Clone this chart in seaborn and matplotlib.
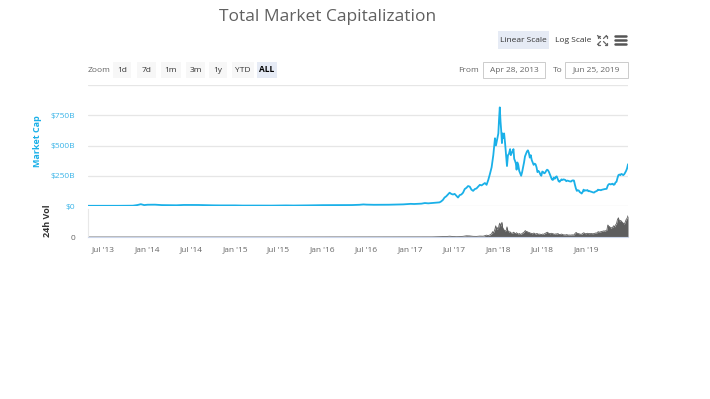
import pandas as pd
import seaborn as sns
import matplotlib.pyplot as plt
import matplotlib.dates as mdates
from matplotlib.patches import FancyBboxPatch
from matplotlib.lines import Line2D

# market cap, billions USD (sparse before the 2017 run, denser after)
cap_dates_early = [
    "2013-04-28", "2013-06-01", "2013-07-01", "2013-08-01", "2013-09-01", "2013-10-01",
    "2013-11-01", "2013-11-20", "2013-12-04", "2013-12-18", "2014-01-01", "2014-02-01",
    "2014-03-01", "2014-04-01", "2014-05-01", "2014-06-01", "2014-07-01", "2014-08-01",
    "2014-09-01", "2014-10-01", "2014-11-01", "2014-12-01", "2015-01-01", "2015-02-01",
    "2015-03-01", "2015-04-01", "2015-05-01", "2015-06-01", "2015-07-01", "2015-08-01",
    "2015-09-01", "2015-10-01", "2015-11-01", "2015-12-01", "2016-01-01", "2016-02-01",
    "2016-03-01", "2016-04-01", "2016-05-01", "2016-06-01", "2016-06-18", "2016-07-01",
    "2016-08-01", "2016-09-01", "2016-10-01", "2016-11-01", "2016-12-01", "2017-01-01",
    "2017-01-15", "2017-02-01", "2017-02-15", "2017-03-01", "2017-03-15", "2017-04-01",
    "2017-04-15",
]
cap_values_early = [
    1.6, 1.4, 1.1, 1.3, 1.7, 1.8,
    2.6, 8.0, 15.0, 7.5, 10.5, 11.0,
    7.5, 6.3, 6.0, 8.6, 8.6, 8.3,
    6.5, 5.5, 4.8, 5.3, 4.9, 3.5,
    3.8, 3.6, 3.4, 3.3, 4.3, 4.7,
    3.9, 4.1, 5.2, 6.1, 7.0, 7.0,
    7.9, 7.4, 7.8, 10.0, 13.0, 11.4,
    10.0, 10.4, 10.6, 12.2, 13.5, 17.7,
    16.5, 18.5, 19.5, 24.5, 22.0, 25.0,
    28.0,
]
cap_dates_2017 = [
    "2017-05-01", "2017-05-08", "2017-05-15", "2017-05-22", "2017-05-29", "2017-06-05",
    "2017-06-12", "2017-06-19", "2017-06-26", "2017-07-03", "2017-07-10", "2017-07-17",
    "2017-07-24", "2017-07-31", "2017-08-07", "2017-08-14", "2017-08-21", "2017-08-28",
    "2017-09-04", "2017-09-11", "2017-09-18", "2017-09-25", "2017-10-02", "2017-10-09",
    "2017-10-16", "2017-10-23", "2017-10-30", "2017-11-06", "2017-11-13", "2017-11-20",
    "2017-11-27", "2017-12-04", "2017-12-11", "2017-12-18", "2017-12-22", "2017-12-25",
]
cap_values_2017 = [
    30, 38, 50, 70, 80, 95,
    110, 100, 95, 100, 85, 70,
    90, 95, 110, 140, 150, 165,
    160, 135, 125, 140, 145, 160,
    175, 170, 180, 190, 175, 215,
    265, 320, 420, 560, 500, 530,
]
cap_dates_2018 = [
    "2018-01-01", "2018-01-04", "2018-01-07", "2018-01-10", "2018-01-13", "2018-01-16",
    "2018-01-18", "2018-01-21", "2018-01-25", "2018-01-29", "2018-02-02", "2018-02-06",
    "2018-02-10", "2018-02-14", "2018-02-19", "2018-02-22", "2018-02-26", "2018-03-01",
    "2018-03-05", "2018-03-08", "2018-03-12", "2018-03-15", "2018-03-18", "2018-03-21",
    "2018-03-25", "2018-03-29", "2018-04-02", "2018-04-06", "2018-04-10", "2018-04-14",
    "2018-04-18", "2018-04-22", "2018-04-26", "2018-04-30", "2018-05-04", "2018-05-08",
    "2018-05-12", "2018-05-16", "2018-05-20", "2018-05-24", "2018-05-28", "2018-06-01",
    "2018-06-05", "2018-06-09", "2018-06-13", "2018-06-17", "2018-06-21", "2018-06-25",
    "2018-06-29", "2018-07-03", "2018-07-07", "2018-07-11", "2018-07-15", "2018-07-19",
    "2018-07-23", "2018-07-27", "2018-07-31", "2018-08-04", "2018-08-08", "2018-08-12",
    "2018-08-16", "2018-08-20", "2018-08-24", "2018-08-28", "2018-09-01", "2018-09-05",
    "2018-09-09", "2018-09-13", "2018-09-17", "2018-09-21", "2018-09-25", "2018-09-29",
    "2018-10-03", "2018-10-07", "2018-10-11", "2018-10-15", "2018-10-19", "2018-10-23",
    "2018-10-27", "2018-10-31", "2018-11-04", "2018-11-08", "2018-11-12", "2018-11-16",
    "2018-11-20", "2018-11-24", "2018-11-28", "2018-12-02", "2018-12-06", "2018-12-10",
    "2018-12-14", "2018-12-18", "2018-12-22", "2018-12-26", "2018-12-30",
]
cap_values_2018 = [
    600, 720, 815, 700, 620, 520,
    600, 560, 600, 520, 420, 330,
    420, 430, 470, 420, 440, 450,
    470, 390, 370, 350, 300, 360,
    340, 290, 270, 250, 280, 320,
    360, 410, 430, 450, 460, 440,
    400, 420, 380, 360, 340, 350,
    345, 320, 280, 290, 280, 260,
    250, 285, 280, 270, 275, 290,
    300, 295, 280, 260, 240, 220,
    215, 235, 225, 240, 245, 225,
    205, 200, 210, 220, 215, 220,
    218, 215, 205, 210, 208, 205,
    203, 202, 210, 212, 210, 175,
    145, 125, 130, 128, 115, 110,
    103, 115, 135, 125, 130,
]
cap_dates_2019 = [
    "2019-01-03", "2019-01-07", "2019-01-11", "2019-01-15", "2019-01-19", "2019-01-23",
    "2019-01-27", "2019-01-31", "2019-02-04", "2019-02-08", "2019-02-12", "2019-02-16",
    "2019-02-20", "2019-02-24", "2019-02-28", "2019-03-04", "2019-03-08", "2019-03-12",
    "2019-03-16", "2019-03-20", "2019-03-24", "2019-03-28", "2019-04-02", "2019-04-06",
    "2019-04-10", "2019-04-14", "2019-04-18", "2019-04-22", "2019-04-26", "2019-04-30",
    "2019-05-04", "2019-05-08", "2019-05-12", "2019-05-16", "2019-05-20", "2019-05-24",
    "2019-05-28", "2019-06-01", "2019-06-05", "2019-06-09", "2019-06-13", "2019-06-17",
    "2019-06-21", "2019-06-25",
]
cap_values_2019 = [
    128, 132, 122, 124, 120, 118,
    115, 112, 111, 118, 122, 125,
    135, 132, 133, 130, 134, 136,
    138, 140, 141, 142, 170, 180,
    182, 178, 182, 184, 175, 178,
    195, 200, 230, 255, 260, 255,
    265, 262, 255, 262, 275, 290,
    310, 345,
]

# 24h volume, billions USD
vol_dates_early = [
    "2013-04-28", "2013-11-15", "2013-12-05", "2014-06-01", "2015-06-01", "2016-06-01",
    "2016-12-01", "2017-01-01", "2017-04-01", "2017-05-15", "2017-06-01", "2017-06-12",
    "2017-06-26", "2017-07-10", "2017-07-24", "2017-08-07", "2017-08-21", "2017-09-04",
    "2017-09-18", "2017-10-02", "2017-10-16", "2017-10-30", "2017-11-13", "2017-11-20",
    "2017-11-27", "2017-12-04", "2017-12-08", "2017-12-11", "2017-12-15", "2017-12-18",
    "2017-12-21", "2017-12-25", "2017-12-28",
]
vol_values_early = [
    0.0, 0.1, 0.2, 0.03, 0.02, 0.1,
    0.1, 0.2, 0.5, 1.5, 2.0, 3.0,
    1.8, 1.2, 1.5, 2.5, 4.5, 4.0,
    2.5, 2.2, 3.5, 3.0, 7.0, 5.0,
    8.0, 12.0, 20.0, 15.0, 22.0, 30.0,
    42.0, 28.0, 35.0,
]
vol_dates_late = [
    "2018-01-01", "2018-01-04", "2018-01-07", "2018-01-10", "2018-01-13", "2018-01-16",
    "2018-01-19", "2018-01-22", "2018-01-26", "2018-01-30", "2018-02-03", "2018-02-06",
    "2018-02-10", "2018-02-14", "2018-02-18", "2018-02-22", "2018-02-26", "2018-03-02",
    "2018-03-06", "2018-03-10", "2018-03-14", "2018-03-18", "2018-03-22", "2018-03-26",
    "2018-03-30", "2018-04-03", "2018-04-07", "2018-04-11", "2018-04-15", "2018-04-19",
    "2018-04-23", "2018-04-27", "2018-05-01", "2018-05-05", "2018-05-09", "2018-05-13",
    "2018-05-17", "2018-05-21", "2018-05-25", "2018-05-29", "2018-06-02", "2018-06-06",
    "2018-06-10", "2018-06-14", "2018-06-18", "2018-06-22", "2018-06-26", "2018-06-30",
    "2018-07-04", "2018-07-08", "2018-07-12", "2018-07-16", "2018-07-20", "2018-07-24",
    "2018-07-28", "2018-08-01", "2018-08-05", "2018-08-09", "2018-08-13", "2018-08-17",
    "2018-08-21", "2018-08-25", "2018-08-29", "2018-09-02", "2018-09-06", "2018-09-10",
    "2018-09-14", "2018-09-18", "2018-09-22", "2018-09-26", "2018-09-30", "2018-10-04",
    "2018-10-08", "2018-10-12", "2018-10-16", "2018-10-20", "2018-10-24", "2018-10-28",
    "2018-11-01", "2018-11-05", "2018-11-09", "2018-11-13", "2018-11-17", "2018-11-21",
    "2018-11-25", "2018-11-29", "2018-12-03", "2018-12-07", "2018-12-11", "2018-12-15",
    "2018-12-19", "2018-12-23", "2018-12-27", "2018-12-31", "2019-01-04", "2019-01-08",
    "2019-01-12", "2019-01-16", "2019-01-20", "2019-01-24", "2019-01-28", "2019-02-01",
    "2019-02-05", "2019-02-09", "2019-02-13", "2019-02-17", "2019-02-21", "2019-02-25",
    "2019-03-01", "2019-03-05", "2019-03-09", "2019-03-13", "2019-03-17", "2019-03-21",
    "2019-03-25", "2019-03-29", "2019-04-02", "2019-04-06", "2019-04-10", "2019-04-14",
    "2019-04-18", "2019-04-22", "2019-04-26", "2019-04-30", "2019-05-04", "2019-05-08",
    "2019-05-12", "2019-05-16", "2019-05-20", "2019-05-24", "2019-05-28", "2019-06-01",
    "2019-06-05", "2019-06-09", "2019-06-13", "2019-06-17", "2019-06-21", "2019-06-25",
]
vol_values_late = [
    30.0, 45.0, 52.0, 40.0, 48.0, 55.0,
    35.0, 30.0, 25.0, 22.0, 26.0, 38.0,
    22.0, 18.0, 20.0, 16.0, 14.0, 15.0,
    18.0, 14.0, 13.0, 16.0, 12.0, 11.0,
    13.0, 10.0, 11.0, 14.0, 16.0, 19.0,
    24.0, 21.0, 20.0, 18.0, 17.0, 15.0,
    14.0, 12.0, 13.0, 15.0, 12.0, 11.0,
    13.0, 12.0, 10.0, 11.0, 10.0, 9.0,
    11.0, 10.0, 12.0, 14.0, 16.0, 18.0,
    15.0, 13.0, 12.0, 14.0, 13.0, 12.0,
    11.0, 10.0, 12.0, 11.0, 13.0, 10.0,
    9.0, 10.0, 11.0, 9.0, 8.0, 8.0,
    7.5, 9.0, 8.0, 7.0, 7.5, 7.0,
    7.5, 8.0, 7.5, 8.5, 14.0, 17.0,
    14.0, 13.0, 12.0, 11.0, 10.0, 11.0,
    14.0, 16.0, 13.0, 12.0, 13.0, 14.0,
    12.0, 13.0, 12.5, 13.0, 12.0, 12.5,
    13.0, 15.0, 14.0, 17.0, 20.0, 18.0,
    19.0, 20.0, 21.0, 22.0, 23.0, 22.0,
    24.0, 26.0, 45.0, 40.0, 38.0, 33.0,
    35.0, 36.0, 42.0, 38.0, 45.0, 50.0,
    65.0, 72.0, 58.0, 62.0, 60.0, 55.0,
    52.0, 48.0, 55.0, 65.0, 70.0, 80.0,
]

cap_ticks = [0, 250, 500, 750, 1000]
cap_tick_labels = ["$0", "$250B", "$500B", "$750B", ""]
zoom_buttons = ["1d", "7d", "1m", "3m", "1y", "YTD", "ALL"]

cap = pd.DataFrame({
    "date": pd.to_datetime(cap_dates_early + cap_dates_2017 + cap_dates_2018 + cap_dates_2019),
    "cap": cap_values_early + cap_values_2017 + cap_values_2018 + cap_values_2019,
})
vol = pd.DataFrame({
    "date": pd.to_datetime(vol_dates_early + vol_dates_late),
    "vol": vol_values_early + vol_values_late,
})

sns.set_style("white")
plt.rcParams["font.family"] = ["Open Sans", "DejaVu Sans"]

W, H = 710, 399
fig = plt.figure(figsize=(7.1, 3.99), dpi=100)

def fx(px):
    return px / W

def fy(py):
    return 1 - py / H

line_col = "#1ab0e8"
grid_col = "#e6e6e6"
axis_col = "#ccd6eb"
text_col = "#666666"

ax = fig.add_axes([fx(88), fy(206), fx(628 - 88), (206 - 85) / H])
axv = fig.add_axes([fx(88), fy(237), fx(628 - 88), (237 - 209) / H], sharex=ax)

sns.lineplot(data=cap, x="date", y="cap", ax=ax, color=line_col, linewidth=1.3)
ax.set_ylim(0, 1000)
ax.set_yticks(cap_ticks)
ax.set_yticklabels(cap_tick_labels, color="#3ab4e8", fontsize=6)
ax.grid(axis="y", color=grid_col, linewidth=0.9)
ax.set_axisbelow(True)
for s in ax.spines.values():
    s.set_visible(False)
ax.tick_params(axis="y", length=0, pad=9)
ax.tick_params(axis="x", bottom=False, labelbottom=False)
ax.set_xlabel("")
ax.set_ylabel("")

axv.fill_between(vol["date"], vol["vol"], color="#5e5e5e", linewidth=0)
sns.lineplot(data=vol, x="date", y="vol", ax=axv, color="#5e5e5e", linewidth=0.6)
axv.set_ylim(0, 105)
axv.set_yticks([0])
axv.set_yticklabels(["0"], color=text_col, fontsize=6)
axv.tick_params(axis="y", length=0, pad=9)
for k in ["top", "right"]:
    axv.spines[k].set_visible(False)
axv.spines["bottom"].set_color(axis_col)
axv.spines["left"].set_color("#e8e8e8")
axv.spines["left"].set_linewidth(0.8)
axv.set_xlabel("")
axv.set_ylabel("")

ax.set_xlim(pd.Timestamp("2013-04-28"), pd.Timestamp("2019-06-25"))
xt = pd.date_range("2013-07-01", "2019-01-01", freq="6MS")
axv.set_xticks(xt)
axv.xaxis.set_major_formatter(mdates.DateFormatter("%b '%y"))
axv.tick_params(axis="x", colors=axis_col, length=5, width=0.8, labelsize=6,
                labelcolor=text_col, pad=2)

fig.text(fx(38), fy(141), "Market Cap", rotation=90, ha="center", va="center",
         color="#1ab0e8", fontsize=6.5, fontweight="bold")
fig.text(fx(48), fy(221), "24h Vol", rotation=90, ha="center", va="center",
         color="#333333", fontsize=6.5, fontweight="bold")

fig.text(fx(328), fy(17), "Total Market Capitalization", ha="center", va="center",
         color="#606060", fontsize=12.5)

# toolbar
def button(x0, x1, y0, y1, face, edge="none"):
    fig.patches.append(FancyBboxPatch((fx(x0), fy(y1)), fx(x1 - x0), (y1 - y0) / H,
                                      boxstyle="square,pad=0", transform=fig.transFigure,
                                      facecolor=face, edgecolor=edge, linewidth=0.7))

button(498, 549, 31, 49, "#e6ebf5")
fig.text(fx(523.5), fy(40), "Linear Scale", ha="center", va="center", fontsize=6, color="#333333")
fig.text(fx(573), fy(40), "Log Scale", ha="center", va="center", fontsize=6, color="#333333")

# full-screen icon: four small corner arrows
for sx, sy in [(-1, -1), (1, -1), (-1, 1), (1, 1)]:
    x0, y0 = 602 + sx * 1.5, 40 + sy * 1.5
    x1, y1 = 602 + sx * 4.5, 40 + sy * 4.5
    fig.add_artist(Line2D([fx(x0), fx(x1)], [fy(y0), fy(y1)], color="#666666", linewidth=0.9))
    fig.add_artist(Line2D([fx(x1 - sx * 2), fx(x1), fx(x1)], [fy(y1), fy(y1), fy(y1 - sy * 2)],
                          color="#666666", linewidth=0.9))
for yy in [36, 40, 44]:
    fig.add_artist(Line2D([fx(615), fx(626)], [fy(yy), fy(yy)], color="#555555", linewidth=1.8))

fig.text(fx(88), fy(70), "Zoom", ha="left", va="center", fontsize=6, color=text_col)
bx = [(113, 131), (137, 156), (161, 181), (186, 205), (209, 227), (232, 254), (257, 277)]
for (a, b), lab in zip(bx, zoom_buttons):
    sel = lab == "ALL"
    button(a, b, 62, 78, "#e6ebf5" if sel else "#f7f7f7")
    fig.text(fx((a + b) / 2), fy(70), lab, ha="center", va="center", fontsize=6,
             color="#000000" if sel else "#333333", fontweight="bold" if sel else "normal")

fig.text(fx(458), fy(70), "From", ha="left", va="center", fontsize=6, color=text_col)
button(483, 545, 62, 78, "white", "#cccccc")
fig.text(fx(514), fy(70), "Apr 28, 2013", ha="center", va="center", fontsize=6, color=text_col)
fig.text(fx(553), fy(70), "To", ha="left", va="center", fontsize=6, color=text_col)
button(565, 628, 62, 78, "white", "#cccccc")
fig.text(fx(596.5), fy(70), "Jun 25, 2019", ha="center", va="center", fontsize=6, color=text_col)

fig.savefig("out.png", dpi=100)
